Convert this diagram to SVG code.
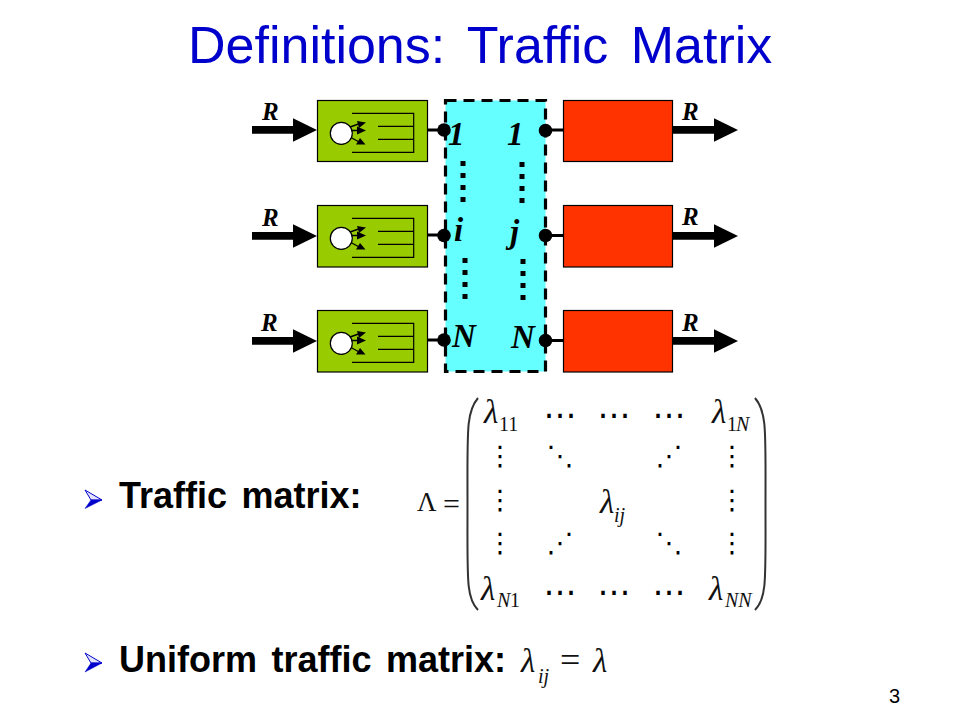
<svg xmlns="http://www.w3.org/2000/svg" width="960" height="720" viewBox="0 0 960 720">
<style>
.sans{font-family:"Liberation Sans",Arial,sans-serif}
.serif{font-family:"Liberation Serif","Times New Roman",serif}
.r{font-family:"Liberation Serif",serif;font-style:italic;font-weight:bold;font-size:25px;fill:#000}
.port{font-family:"Liberation Serif",serif;font-style:italic;font-weight:bold;font-size:33px;fill:#000}
.body{font-family:"Liberation Sans",sans-serif;font-weight:bold;font-size:36px;word-spacing:4.500px;fill:#000}
.m{font-family:"Liberation Serif",serif;font-style:italic;font-size:33px;fill:#111}
.s{font-family:"Liberation Serif",serif;font-size:20px;fill:#111}
.si{font-family:"Liberation Serif",serif;font-style:italic;font-size:20px;fill:#111}
.d{font-family:"DejaVu Sans",sans-serif;font-size:27px;fill:#000;text-anchor:middle}
.h{font-family:"DejaVu Sans",sans-serif;font-size:33px;fill:#000;text-anchor:middle}
.green{fill:#99cc00;stroke:#000;stroke-width:1.2}
.red{fill:#ff3300;stroke:#000;stroke-width:1.2}
.ln{stroke:#000;stroke-width:1.2;fill:none}
.wire{stroke:#000;stroke-width:3;fill:none}
.dots{stroke:#000;stroke-width:5;stroke-dasharray:5 7;fill:none}
.bl{fill:#0000cc;stroke:#0000cc;stroke-width:.5}
.bh{fill:#e4e4ff;stroke:#0000cc;stroke-width:1}
</style>
<defs>
<polygon id="inArrow" points="252,126 293,126 293,118.300 317,130 293,141.700 293,133.700 252,133.700" fill="#000"/>
<polygon id="outArrow" points="673,126 714,126 714,118.300 738,130 714,141.700 714,133.700 673,133.700" fill="#000"/>
<g id="queue">
<path class="ln" d="M352 113.300H413.700V152.300H352M378 126.300H413.700M378 139.300H413.700"/>
<path d="M350 127L360 123.500M351 130.500L360 130.500M350 137L361 143" stroke="#000" stroke-width="1.400" fill="none"/>
<polygon points="357,121 366,122.500 359,128" fill="#000"/>
<polygon points="357,126.500 366,130.500 357,134.500" fill="#000"/>
<polygon points="360,138 365.500,144.500 356,144.500" fill="#000"/>
<circle cx="341.300" cy="133.300" r="11" fill="#fff" stroke="#000" stroke-width="1.200"/>
</g>
</defs>

<text id="title" class="sans" x="188" y="63" font-size="52" word-spacing="8" fill="#0000cc">Definitions: Traffic Matrix</text>

<rect id="fabric" x="445.500" y="100.500" width="100" height="271" fill="#66ffff" stroke="#000" stroke-width="3.200" stroke-dasharray="11 7"/>

<g id="connectors">
<path class="wire" d="M427 130H445M427 235H445M427 340H445M546 130H563M546 235.500H563M546 340.500H563"/>
<use href="#inArrow"/><use href="#inArrow" y="106"/><use href="#inArrow" y="211"/>
<use href="#outArrow"/><use href="#outArrow" y="106"/><use href="#outArrow" y="211"/>
<path class="dots" d="M463 161V204M522 162V205M465 258V301M523 259V302"/>
</g>

<g id="in1"><rect class="green" x="317.500" y="100.500" width="110" height="61"/><use href="#queue"/></g>
<g id="in2"><rect class="green" x="317.500" y="205.500" width="110" height="61.500"/><use href="#queue" y="105"/></g>
<g id="in3"><rect class="green" x="317.500" y="310.500" width="110" height="61.500"/><use href="#queue" y="210"/></g>
<g id="out1"><rect class="red" x="563.500" y="100.500" width="109" height="61"/></g>
<g id="out2"><rect class="red" x="563.500" y="205.500" width="109" height="61.500"/></g>
<g id="out3"><rect class="red" x="563.500" y="310.500" width="109" height="61.500"/></g>

<g id="ports" fill="#000">
<circle cx="444" cy="130" r="6.800"/><circle cx="444" cy="235.500" r="6.800"/><circle cx="444" cy="340" r="6.800"/>
<circle cx="545.500" cy="130.500" r="6.800"/><circle cx="545.500" cy="235.500" r="6.800"/><circle cx="545.500" cy="340.500" r="6.800"/>
</g>

<g id="labels">
<text class="r" x="262" y="120">R</text><text class="r" x="262" y="226">R</text><text class="r" x="261" y="331">R</text>
<text class="r" x="682" y="120">R</text><text class="r" x="682" y="225">R</text><text class="r" x="682" y="331">R</text>
<text class="port" x="448" y="145">1</text><text class="port" x="507" y="145">1</text>
<text class="port" x="454" y="241">i</text><text class="port" x="510" y="243">j</text>
<text class="port" x="452" y="347">N</text><text class="port" x="511" y="348">N</text>
</g>

<g id="bullet1"><polygon class="bh" points="85,490 102,500 91,500"/><polygon class="bl" points="102,500 85,508.500 91,500"/><text class="body" x="119" y="508">Traffic matrix:</text></g>
<g id="bullet2"><polygon class="bh" points="85,653 102,663 91,663"/><polygon class="bl" points="102,663 85,672 91,663"/><text class="body" x="119" y="672">Uniform traffic matrix:</text></g>
<g id="formula"><text class="m" x="521" y="672">λ</text><text class="si" x="538" y="683">ij</text><text class="serif" x="560" y="672" font-size="36" fill="#111">=</text><text class="m" x="593" y="672">λ</text></g>

<g id="matrix">
<text class="serif" x="417" y="511" font-size="27" fill="#111">Λ</text><text class="serif" x="443" y="514" font-size="30" fill="#111">=</text>
<path d="M478 398C466 412 467.500 430 467.500 505C467.500 580 466 598 478 610" fill="none" stroke="#333" stroke-width="2"/>
<path d="M755 398C767 412 765.500 430 765.500 505C765.500 580 767 598 755 610" fill="none" stroke="#333" stroke-width="2"/>
<text class="m" x="484" y="423">λ</text><text class="s" x="499" y="431">11</text>
<text class="m" x="712" y="423">λ</text><text class="s" x="727" y="431">1</text><text class="si" x="736" y="431">N</text>
<text class="m" x="600" y="513">λ</text><text class="si" x="614" y="522">ij</text>
<text class="m" x="481" y="600">λ</text><text class="si" x="497" y="607">N</text><text class="s" x="510" y="607">1</text>
<text class="m" x="709" y="600">λ</text><text class="si" x="725" y="607">NN</text>
<text class="h" x="560" y="426">⋯</text><text class="h" x="614" y="426">⋯</text><text class="h" x="669" y="426">⋯</text>
<text class="h" x="560" y="603">⋯</text><text class="h" x="614" y="603">⋯</text><text class="h" x="669" y="603">⋯</text>
<text class="d" x="500" y="465">⋮</text><text class="d" x="500" y="509">⋮</text><text class="d" x="500" y="552">⋮</text>
<text class="d" x="732" y="465">⋮</text><text class="d" x="732" y="509">⋮</text><text class="d" x="732" y="552">⋮</text>
<text class="d" x="560" y="465">⋱</text><text class="d" x="669" y="465">⋰</text>
<text class="d" x="560" y="552">⋰</text><text class="d" x="669" y="552">⋱</text>
</g>

<text id="page" class="sans" x="889" y="703" font-size="20" fill="#000">3</text>
</svg>
